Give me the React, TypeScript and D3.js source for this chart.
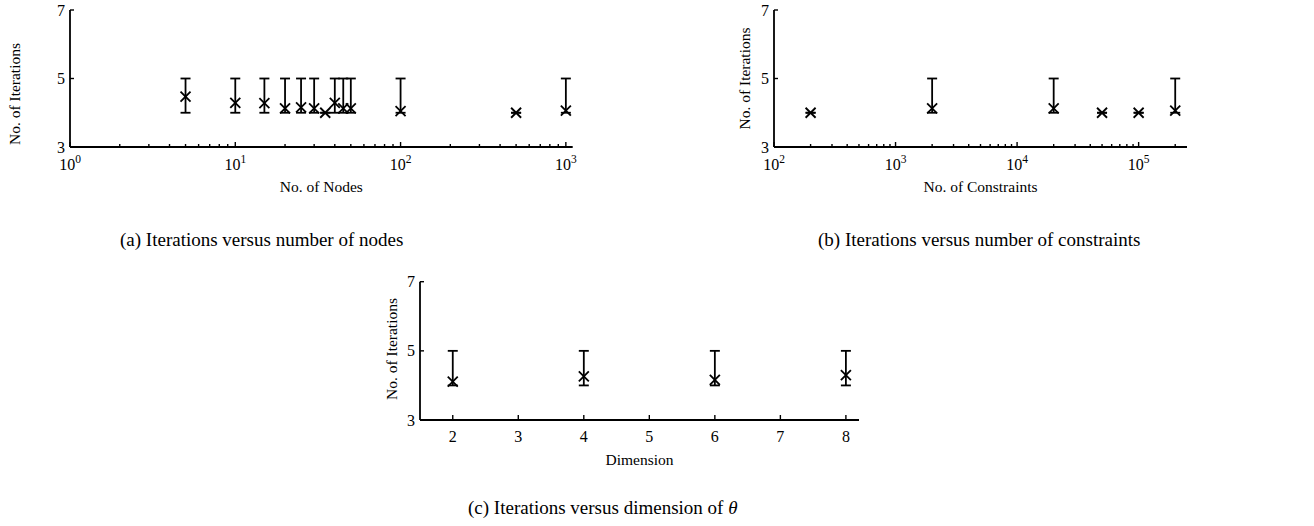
import * as d3 from "d3";
import React from "react";

// (a) iterations vs number of nodes
const nodeCounts = [5, 10, 15, 20, 25, 30, 35, 40, 45, 50, 100, 500, 1000];
const nodeMean = [4.47, 4.29, 4.28, 4.13, 4.16, 4.13, 4.0, 4.29, 4.13, 4.13, 4.05, 4.0, 4.06];
const nodeLow = [4, 4, 4, 4, 4, 4, 4, 4, 4, 4, 4, 4, 4];
const nodeHigh = [5, 5, 5, 5, 5, 5, 4, 5, 5, 5, 5, 4, 5];

// (b) iterations vs number of constraints
const constraintCounts = [200, 2000, 20000, 50000, 100000, 200000];
const constraintMean = [4.0, 4.13, 4.13, 4.0, 4.0, 4.06];
const constraintLow = [4, 4, 4, 4, 4, 4];
const constraintHigh = [4, 5, 5, 4, 4, 5];

// (c) iterations vs dimension of theta
const dims = [2, 4, 6, 8];
const dimMean = [4.11, 4.26, 4.16, 4.3];
const dimLow = [4, 4, 4, 4];
const dimHigh = [5, 5, 5, 5];

const yTicks = [3, 5, 7];
const dimTicks = [2, 3, 4, 5, 6, 7, 8];

const FONT = "'Liberation Serif', 'Times New Roman', serif";

type PanelProps = {
  x: any;
  y: d3.ScaleLinear<number, number>;
  log: boolean;
  xs: number[];
  mean: number[];
  low: number[];
  high: number[];
  xTicks: number[];
  xLabel: string;
  yLabelX: number;
  yLabelY: number;
};

const Panel: React.FC<PanelProps> = ({ x, y, log, xs, mean, low, high, xTicks, xLabel, yLabelX, yLabelY }) => {
  const [x0, x1] = x.range();
  const [y0, y1] = y.range();
  const cap = 5;
  const m = 5;
  return (
    <g fontFamily={FONT} fill="#000">
      {/* axes */}
      <line x1={x0} x2={x1} y1={y0} y2={y0} stroke="#000" strokeWidth={1.8} />
      <line x1={x0} x2={x0} y1={y0} y2={y1} stroke="#000" strokeWidth={1.8} />
      {yTicks.map((t) => (
        <g key={"y" + t}>
          <line x1={x0} x2={x0 + 4} y1={y(t)} y2={y(t)} stroke="#000" strokeWidth={1.4} />
          <text x={x0 - 5} y={y(t)} dy="0.35em" textAnchor="end" fontSize={16}>
            {t}
          </text>
        </g>
      ))}
      {xTicks.map((t, i) => {
        const major = log ? Math.abs(Math.log10(t) - Math.round(Math.log10(t))) < 1e-9 : true;
        const len = log ? (major ? 5 : 3) : 5;
        return (
          <g key={"x" + i}>
            <line x1={x(t)} x2={x(t)} y1={y0} y2={y0 - len} stroke="#000" strokeWidth={1.4} />
            {major &&
              (log ? (
                <text x={x(t)} y={y0 + 23} textAnchor="middle" fontSize={16}>
                  10
                  <tspan fontSize={11.5} dy={-7}>
                    {Math.round(Math.log10(t))}
                  </tspan>
                </text>
              ) : (
                <text x={x(t)} y={y0 + 22} textAnchor="middle" fontSize={16}>
                  {t}
                </text>
              ))}
          </g>
        );
      })}
      <text x={(x0 + x1) / 2} y={y0 + 45} textAnchor="middle" fontSize={15.5}>
        {xLabel}
      </text>
      <text
        transform={`translate(${yLabelX},${yLabelY}) rotate(-90)`}
        textAnchor="middle"
        fontSize={15.5}
      >
        No. of Iterations
      </text>
      {/* error bars and means */}
      {xs.map((v, i) => {
        const cx = x(v);
        const cy = y(mean[i]);
        return (
          <g key={"p" + i} stroke="#000" strokeWidth={1.8} fill="none">
            <line x1={cx} x2={cx} y1={y(low[i])} y2={y(high[i])} />
            <line x1={cx - cap} x2={cx + cap} y1={y(low[i])} y2={y(low[i])} />
            <line x1={cx - cap} x2={cx + cap} y1={y(high[i])} y2={y(high[i])} />
            <line x1={cx - m} x2={cx + m} y1={cy - m} y2={cy + m} />
            <line x1={cx - m} x2={cx + m} y1={cy + m} y2={cy - m} />
          </g>
        );
      })}
    </g>
  );
};

export default function App() {
  const xA = d3.scaleLog().domain([1, 1100]).range([70, 572.7]);
  const yA = d3.scaleLinear().domain([3, 7]).range([147, 10]);
  const xB = d3.scaleLog().domain([100, 250000]).range([774, 1187]);
  const yB = d3.scaleLinear().domain([3, 7]).range([147, 10]);
  const xC = d3.scaleLinear().domain([1.5, 8.2]).range([420, 859]);
  const yC = d3.scaleLinear().domain([3, 7]).range([420, 281.7]);

  return (
    <svg
      width={1314}
      height={526}
      style={{ position: "absolute", left: 0, top: 0, background: "#fff" }}
    >
      <Panel
        x={xA}
        y={yA}
        log
        xs={nodeCounts}
        mean={nodeMean}
        low={nodeLow}
        high={nodeHigh}
        xTicks={xA.ticks()}
        xLabel="No. of Nodes"
        yLabelX={20}
        yLabelY={94}
      />
      <Panel
        x={xB}
        y={yB}
        log
        xs={constraintCounts}
        mean={constraintMean}
        low={constraintLow}
        high={constraintHigh}
        xTicks={xB.ticks()}
        xLabel="No. of Constraints"
        yLabelX={750}
        yLabelY={78.5}
      />
      <Panel
        x={xC}
        y={yC}
        log={false}
        xs={dims}
        mean={dimMean}
        low={dimLow}
        high={dimHigh}
        xTicks={dimTicks}
        xLabel="Dimension"
        yLabelX={397}
        yLabelY={349}
      />
      <g fontFamily={FONT} fontSize={19} fill="#000">
        <text x={120} y={246}>(a) Iterations versus number of nodes</text>
        <text x={818} y={246}>(b) Iterations versus number of constraints</text>
        <text x={468} y={514}>
          (c) Iterations versus dimension of <tspan fontStyle="italic">θ</tspan>
        </text>
      </g>
    </svg>
  );
}
